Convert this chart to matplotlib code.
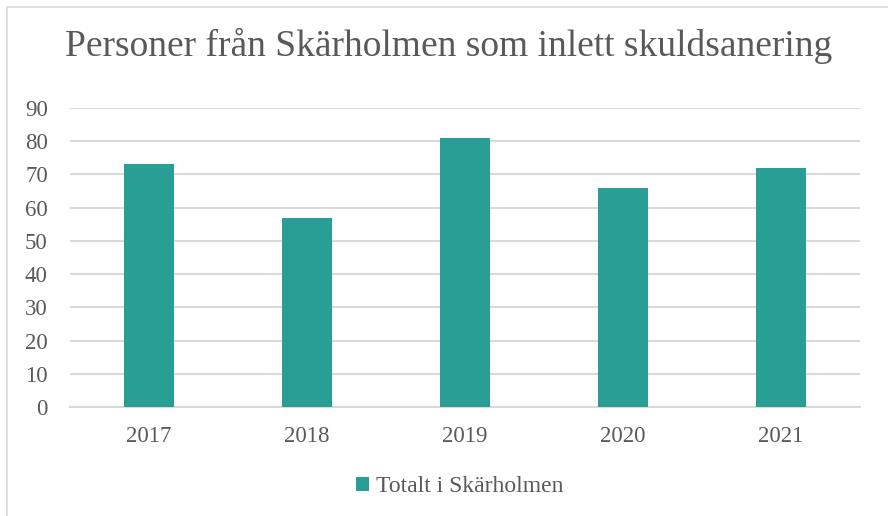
import matplotlib
matplotlib.use("Agg")
import matplotlib.pyplot as plt
from matplotlib.patches import Rectangle

years = ["2017", "2018", "2019", "2020", "2021"]
values = [73, 57, 81, 66, 72]
series_name = "Totalt i Skärholmen"
title = "Personer från Skärholmen som inlett skuldsanering"
yticks = [0, 10, 20, 30, 40, 50, 60, 70, 80, 90]

W, H = 888, 516
fig = plt.figure(figsize=(W / 100, H / 100), dpi=100)
plt.rcParams['font.family'] = ['Liberation Serif', 'DejaVu Serif']
txt = "#595959"
teal = "#299E94"

# chart-area border (cropped at right/bottom)
fig.patches.append(Rectangle((7 / W, -0.1), 1.2, 1 - 7 / H + 0.1, transform=fig.transFigure,
                             fill=False, edgecolor="#D9D9D9", linewidth=1.2))

ax = fig.add_axes([70 / W, (H - 407) / H, (860 - 70) / W, (407 - 108) / H])
x = range(len(years))
ax.bar(x, values, width=0.315, color=teal, label=series_name, zorder=3)
ax.set_xlim(-0.5, len(years) - 0.5)
ax.set_ylim(0, 90)
ax.set_yticks(yticks)
ax.set_xticks(list(x))
ax.set_xticklabels(years)
ax.yaxis.grid(True, color="#D9D9D9", linewidth=1.5, zorder=0)
ax.set_axisbelow(True)
for s in ["top", "right", "left"]:
    ax.spines[s].set_visible(False)
ax.spines["bottom"].set_color("#D9D9D9")
ax.spines["bottom"].set_linewidth(1.5)
ax.tick_params(axis="both", length=0, labelsize=16.5, colors=txt)
ax.tick_params(axis="y", pad=16)
ax.tick_params(axis="x", pad=14)

fig.text(449 / W, 1 - 46 / H, title, ha="center", va="center", fontsize=27, color=txt)

leg = fig.legend(loc="center", bbox_to_anchor=(460 / W, 1 - 487 / H), frameon=False,
                 fontsize=17, handlelength=0.55, handleheight=0.55, handletextpad=0.3)
for t in leg.get_texts():
    t.set_color(txt)

fig.savefig("out.png", dpi=100)
